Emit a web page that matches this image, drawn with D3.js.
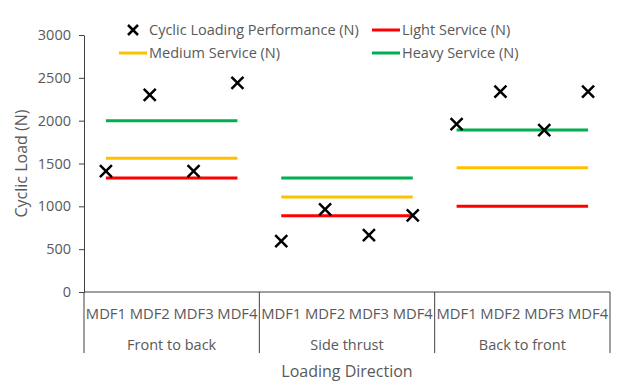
<!DOCTYPE html>
<html>
<head>
<meta charset="utf-8">
<script src="https://cdn.jsdelivr.net/npm/d3@7"></script>
<style>
  body { margin: 0; background: #fff; }
  svg { display: block; font-family: "Open Sans", sans-serif; }
</style>
</head>
<body>
<svg id="chart" width="624" height="386"></svg>
<script>
const groups = ['Front to back', 'Side thrust', 'Back to front'];
const specimens = ['MDF1', 'MDF2', 'MDF3', 'MDF4'];
const cyclic = [
  [1410, 2300, 1410, 2440],
  [595, 965, 665, 895],
  [1960, 2340, 1890, 2340]
];
const light = [1330, 890, 1000];
const medium = [1560, 1110, 1450];
const heavy = [2000, 1330, 1890];
const yTicks = [0, 500, 1000, 1500, 2000, 2500, 3000];

const textColor = '#595959';
const axisColor = '#404040';
const colors = { light: '#FF0000', medium: '#FFC000', heavy: '#00B050' };

const svg = d3.select('#chart');
const plotLeft = 84, plotRight = 610, plotTop = 35, plotBottom = 292;

const keys = [];
groups.forEach(g => specimens.forEach(s => keys.push(g + '|' + s)));

const x = d3.scaleBand().domain(keys).range([plotLeft, plotRight]);
const y = d3.scaleLinear().domain([0, 3000]).range([plotBottom, plotTop]);

// y axis
const yAxis = svg.append('g')
  .attr('transform', `translate(${plotLeft},0)`)
  .call(d3.axisLeft(y).tickValues(yTicks).tickFormat(d3.format('d'))
    .tickSize(5).tickPadding(8).tickSizeOuter(0));
yAxis.select('.domain').attr('stroke', axisColor);
yAxis.selectAll('.tick line').attr('stroke', axisColor);
yAxis.selectAll('.tick text').attr('fill', textColor).style('font-size', '14.5px')
  .style('font-family', '"Open Sans", sans-serif');

// x axis line + group dividers
svg.append('line')
  .attr('x1', plotLeft).attr('x2', plotRight)
  .attr('y1', y(0)).attr('y2', y(0))
  .attr('stroke', axisColor);

const dividers = groups.map(g => x(g + '|MDF1')).concat([plotRight]);
svg.selectAll('.divider').data(dividers).enter().append('line')
  .attr('class', 'divider')
  .attr('x1', d => d).attr('x2', d => d)
  .attr('y1', y(0)).attr('y2', 353)
  .attr('stroke', axisColor);

// category labels
svg.selectAll('.cat').data(keys).enter().append('text')
  .attr('class', 'cat')
  .attr('x', d => x(d) + x.bandwidth() / 2)
  .attr('y', 319)
  .attr('text-anchor', 'middle')
  .attr('fill', textColor)
  .style('font-size', '14.8px')
  .text(d => d.split('|')[1]);

svg.selectAll('.grp').data(groups).enter().append('text')
  .attr('class', 'grp')
  .attr('x', g => x(g + '|MDF1') + x.bandwidth() * 2)
  .attr('y', 350)
  .attr('text-anchor', 'middle')
  .attr('fill', textColor)
  .style('font-size', '14.5px')
  .text(g => g);

// axis titles
svg.append('text')
  .attr('x', (plotLeft + plotRight) / 2).attr('y', 377)
  .attr('text-anchor', 'middle')
  .attr('fill', textColor)
  .style('font-size', '16px')
  .text('Loading Direction');

svg.append('text')
  .attr('transform', `translate(27,${(plotTop + plotBottom) / 2}) rotate(-90)`)
  .attr('text-anchor', 'middle')
  .attr('fill', textColor)
  .style('font-size', '16px')
  .text('Cyclic Load (N)');

// service level lines
const line = d3.line()
  .x(d => x(d.key) + x.bandwidth() / 2)
  .y(d => y(d.value));

const levels = [
  { name: 'light', values: light },
  { name: 'medium', values: medium },
  { name: 'heavy', values: heavy }
];
levels.forEach(lv => {
  groups.forEach((g, i) => {
    const pts = specimens.map(s => ({ key: g + '|' + s, value: lv.values[i] }));
    svg.append('path')
      .datum(pts)
      .attr('fill', 'none')
      .attr('stroke', colors[lv.name])
      .attr('stroke-width', 3)
      .attr('d', line);
  });
});

// cyclic loading markers
const points = [];
groups.forEach((g, i) => specimens.forEach((s, j) => points.push({ key: g + '|' + s, value: cyclic[i][j] })));
const cross = 'M-6,-6L6,6M-6,6L6,-6';
svg.selectAll('.pt').data(points).enter().append('path')
  .attr('class', 'pt')
  .attr('transform', d => `translate(${x(d.key) + x.bandwidth() / 2},${y(d.value)})`)
  .attr('d', cross)
  .attr('stroke', '#000')
  .attr('stroke-width', 2.5)
  .attr('fill', 'none');

// legend
const legend = svg.append('g');
const items = [
  { label: 'Cyclic Loading Performance (N)', type: 'x', x: 133, y: 30 },
  { label: 'Light Service (N)', type: 'light', x: 386, y: 30 },
  { label: 'Medium Service (N)', type: 'medium', x: 133, y: 53 },
  { label: 'Heavy Service (N)', type: 'heavy', x: 386, y: 53 }
];
items.forEach(it => {
  if (it.type === 'x') {
    legend.append('path')
      .attr('transform', `translate(${it.x},${it.y})`)
      .attr('d', 'M-5,-5L5,5M-5,5L5,-5')
      .attr('stroke', '#000').attr('stroke-width', 2.5);
  } else {
    legend.append('line')
      .attr('x1', it.x - 14).attr('x2', it.x + 14)
      .attr('y1', it.y).attr('y2', it.y)
      .attr('stroke', colors[it.type]).attr('stroke-width', 3);
  }
  legend.append('text')
    .attr('x', it.x + 16).attr('y', it.y + 5)
    .attr('fill', textColor)
    .style('font-size', '14.5px')
    .text(it.label);
});
</script>
</body>
</html>
